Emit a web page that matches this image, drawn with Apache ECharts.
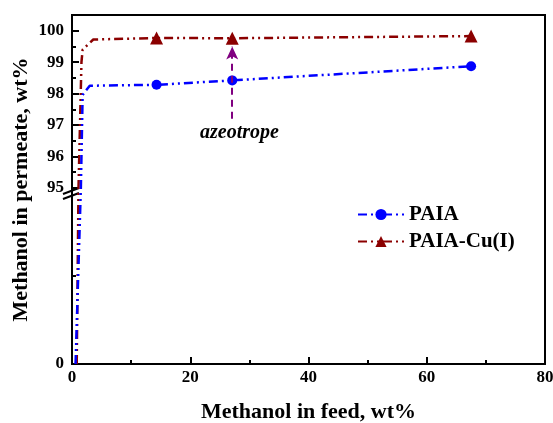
<!DOCTYPE html>
<html>
<head>
<meta charset="utf-8">
<script src="https://cdn.jsdelivr.net/npm/echarts@6/dist/echarts.min.js"></script>
<style>
  html, body { margin: 0; padding: 0; background: #fff; }
  #main { width: 553px; height: 423px; }
</style>
</head>
<body>
<div id="main"></div>
<script>
// data (x = methanol in feed wt%, y = methanol in permeate wt%)
const paiaX = [0.6, 1.5, 1.8, 3.0, 14.3, 27.1, 67.5];
const paiaY = [0, 95, 97.96, 98.25, 98.28, 98.42, 98.87];
const paiaMarked = [false, false, false, false, true, true, true];

const cuX = [0.8, 1.1, 1.6, 1.8, 3.6, 14.3, 27.1, 67.5];
const cuY = [0, 95, 99.0, 99.4, 99.72, 99.77, 99.76, 99.83];
const cuMarked = [false, false, false, false, false, true, true, true];

const yTicks = [0, 95, 96, 97, 98, 99, 100];
const yMinorTicks = [47.5, 95.5, 96.5, 97.5, 98.5, 99.5];

// broken axis: 0..95 squeezed into LOW display units, 95..100 one unit per wt%
const LOW = 5.6;
const TOP = 100.5;
function yd(v) {
  return v <= 95 ? v / 95 * LOW : LOW + (v - 95);
}

const font = 'Liberation Serif, Times New Roman, serif';
const dash = [9, 4, 2, 4, 2, 4];

function pts(xs, ys, marked) {
  return xs.map((x, i) => ({
    value: [x, yd(ys[i])],
    symbolSize: marked[i] ? undefined : 0
  }));
}

const labelOf = {};
yTicks.forEach(t => { labelOf[yd(t).toFixed(4)] = String(t); });

const myChart = echarts.init(document.getElementById('main'));

const option = {
  animation: false,
  grid: {
    left: 72,
    right: 8,
    top: 15,
    bottom: 59,
    outerBoundsMode: 'none',
    show: true,
    borderColor: '#000',
    borderWidth: 2
  },
  legend: {
    left: 352,
    top: 199,
    orient: 'vertical',
    itemWidth: 46,
    itemHeight: 14,
    itemGap: 6,
    textStyle: {
      fontFamily: font,
      fontWeight: 'bold',
      fontSize: 21,
      color: '#000'
    },
    data: ['PAIA', 'PAIA-Cu(I)']
  },
  xAxis: {
    type: 'value',
    min: 0,
    max: 80,
    interval: 20,
    name: 'Methanol in feed, wt%',
    nameLocation: 'middle',
    nameGap: 37,
    nameTextStyle: {
      fontFamily: font,
      fontWeight: 'bold',
      fontSize: 22,
      color: '#000'
    },
    axisLine: { lineStyle: { color: '#000', width: 2 } },
    axisTick: { inside: true, length: 7, lineStyle: { width: 2 } },
    minorTick: { show: true, splitNumber: 2, length: 4, lineStyle: { color: '#000', width: 2 } },
    splitLine: { show: false },
    axisLabel: {
      margin: 5,
      fontFamily: font,
      fontWeight: 'bold',
      fontSize: 17,
      color: '#000'
    }
  },
  yAxis: [{
    type: 'value',
    min: 0,
    max: yd(TOP),
    name: 'Methanol in permeate, wt%',
    nameLocation: 'middle',
    nameGap: 40,
    nameMoveOverlap: false,
    nameTextStyle: {
      fontFamily: font,
      fontWeight: 'bold',
      fontSize: 22,
      color: '#000'
    },
    axisLine: { lineStyle: { color: '#000', width: 2 } },
    axisTick: {
      inside: true,
      length: 7,
      lineStyle: { width: 2 },
      customValues: yTicks.map(yd)
    },
    splitLine: { show: false },
    axisLabel: {
      margin: 8,
      fontFamily: font,
      fontWeight: 'bold',
      fontSize: 17,
      color: '#000',
      customValues: yTicks.map(yd),
      formatter: v => labelOf[v.toFixed(4)] || ''
    }
  }, {
    type: 'value',
    position: 'left',
    min: 0,
    max: yd(TOP),
    axisLine: { show: false },
    axisTick: {
      inside: true,
      length: 4,
      lineStyle: { color: '#000', width: 2 },
      customValues: yMinorTicks.map(yd)
    },
    axisLabel: { show: false },
    splitLine: { show: false }
  }],
  series: [{
    name: 'PAIA',
    type: 'line',
    data: pts(paiaX, paiaY, paiaMarked),
    symbol: 'circle',
    symbolSize: 10,
    showAllSymbol: true,
    color: '#0000ff',
    lineStyle: { color: '#0000ff', width: 2.5, type: dash },
    itemStyle: { color: '#0000ff' },
    z: 3
  }, {
    name: 'PAIA-Cu(I)',
    type: 'line',
    data: pts(cuX, cuY, cuMarked),
    symbol: 'triangle',
    symbolSize: 13,
    showAllSymbol: true,
    color: '#8b0000',
    lineStyle: { color: '#8b0000', width: 2.5, type: dash },
    itemStyle: { color: '#8b0000' },
    z: 2,
    markLine: {
      silent: true,
      symbol: ['none', 'arrow'],
      symbolSize: [9, 13],
      label: { show: false },
      lineStyle: { color: '#800080', width: 2, type: [7, 5] },
      data: [[
        { coord: [27.1, yd(97.2)] },
        { coord: [27.1, yd(99.5)] }
      ]]
    }
  }],
  graphic: [{
    type: 'text',
    left: 200,
    top: 123,
    style: {
      text: 'azeotrope',
      fontFamily: font,
      fontWeight: 'bold',
      fontStyle: 'italic',
      fontSize: 20,
      fill: '#000'
    }
  }, {
    type: 'line',
    shape: { x1: 63, y1: 194, x2: 79, y2: 188 },
    style: { stroke: '#000', lineWidth: 2 }
  }, {
    type: 'line',
    shape: { x1: 63, y1: 199, x2: 79, y2: 193 },
    style: { stroke: '#000', lineWidth: 2 }
  }]
};

myChart.setOption(option);
</script>
</body>
</html>
